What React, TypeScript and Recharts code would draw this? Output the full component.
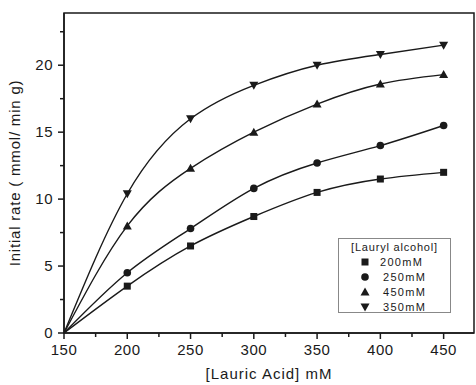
import React from "react";
import { LineChart, Line, XAxis, YAxis, ReferenceArea, Label } from "recharts";

// [Lauric Acid] mM
const lauricAcid = [150, 200, 250, 300, 350, 400, 450];

// initial rate per lauryl alcohol concentration (origin point has no marker)
const rate200 = [0, 3.5, 6.5, 8.7, 10.5, 11.5, 12.0];
const rate250 = [0, 4.5, 7.8, 10.8, 12.7, 14.0, 15.5];
const rate450 = [0, 8.0, 12.3, 15.0, 17.1, 18.6, 19.3];
const rate350 = [0, 10.4, 16.0, 18.5, 20.0, 20.8, 21.5];

const seriesNames = ["200mM", "250mM", "450mM", "350mM"];
const seriesShapes = ["square", "circle", "up", "down"];

const xMajor = [150, 200, 250, 300, 350, 400, 450];
const xMinor = [175, 225, 275, 325, 375, 425];
const yMajor = [0, 5, 10, 15, 20];
const yMinor = [2.5, 7.5, 12.5, 17.5, 22.5];

const data = lauricAcid.map((x, i) => ({
  x,
  s200: rate200[i],
  s250: rate250[i],
  s450: rate450[i],
  s350: rate350[i],
}));

const INK = "#1a1a1a";
const FONT = "'Liberation Sans', Arial, sans-serif";

function Marker({ cx, cy, shape }: { cx: number; cy: number; shape: string }) {
  if (shape === "square") return <rect x={cx - 3.5} y={cy - 3.5} width={7} height={7} fill={INK} />;
  if (shape === "circle") return <circle cx={cx} cy={cy} r={3.8} fill={INK} />;
  if (shape === "up")
    return <polygon points={`${cx},${cy - 4.5} ${cx - 4.5},${cy + 3.5} ${cx + 4.5},${cy + 3.5}`} fill={INK} />;
  return <polygon points={`${cx},${cy + 4.5} ${cx - 4.5},${cy - 3.5} ${cx + 4.5},${cy - 3.5}`} fill={INK} />;
}

const makeDot = (shape: string) => (props: any) => {
  const { cx, cy, index } = props;
  if (index === 0 || cx == null) return <g key={`d-${shape}-${index}`} />;
  return <Marker key={`d-${shape}-${index}`} cx={cx} cy={cy} shape={shape} />;
};

const XTick = (props: any) => {
  const { x, y, payload } = props;
  const major = xMajor.includes(payload.value);
  return (
    <g>
      <line x1={x} x2={x} y1={y} y2={y + (major ? 6 : 4)} stroke={INK} strokeWidth={1.5} />
      {major && (
        <text x={x} y={y + 22} textAnchor="middle" fontSize={15} fontFamily={FONT} fill={INK} letterSpacing={0.5}>
          {payload.value}
        </text>
      )}
    </g>
  );
};

const YTick = (props: any) => {
  const { x, y, payload } = props;
  const major = yMajor.includes(payload.value);
  return (
    <g>
      <line x1={x} x2={x - (major ? 6 : 4)} y1={y} y2={y} stroke={INK} strokeWidth={1.5} />
      {major && (
        <text x={x - 11} y={y + 5} textAnchor="end" fontSize={15} fontFamily={FONT} fill={INK} letterSpacing={0.5}>
          {payload.value}
        </text>
      )}
    </g>
  );
};

const LegendBox = () => (
  <div
    style={{
      position: "absolute",
      left: 338,
      top: 238,
      border: "1px solid #888",
      width: 113,
      height: 75,
      padding: "1px 0 0 0",
      fontFamily: FONT,
      fontSize: 11,
      color: INK,
      background: "#fff",
      boxSizing: "border-box",
    }}
  >
    <div style={{ textAlign: "center", letterSpacing: 0.8, lineHeight: "14px" }}>[Lauryl alcohol]</div>
    {seriesNames.map((name, i) => (
      <div key={name} style={{ display: "flex", alignItems: "center", height: 15, letterSpacing: 1.3 }}>
        <svg width={12} height={10} style={{ marginLeft: 20, marginRight: i === 0 ? 9 : 12 }}>
          <Marker cx={6} cy={5} shape={seriesShapes[i]} />
        </svg>
        <span>{name}</span>
      </div>
    ))}
  </div>
);

export default function App() {
  return (
    <div style={{ position: "absolute", left: 0, top: 0, width: 476, height: 385, background: "#fff" }}>
      <LineChart width={476} height={385} data={data} margin={{ top: 13, right: 2, bottom: 0, left: 0 }}>
        <XAxis
          type="number"
          dataKey="x"
          domain={[150, 474]}
          ticks={[...xMajor, ...xMinor].sort((a, b) => a - b)}
          tick={<XTick />}
          tickLine={false}
          tickSize={0}
          tickMargin={0}
          height={52}
          axisLine={{ stroke: INK, strokeWidth: 1.5 }}
          allowDataOverflow
        >
          <Label
            value="[Lauric Acid] mM"
            position="insideBottom"
            offset={6}
            style={{ fontSize: 15, fontFamily: FONT, fill: INK, letterSpacing: 1 }}
          />
        </XAxis>
        <YAxis
          type="number"
          domain={[0, 23.9]}
          ticks={[...yMajor, ...yMinor].sort((a, b) => a - b)}
          tick={<YTick />}
          tickLine={false}
          tickSize={0}
          tickMargin={0}
          width={64}
          axisLine={{ stroke: INK, strokeWidth: 1.5 }}
          allowDataOverflow
        >
          <Label
            value="Initial rate ( mmol/ min g)"
            angle={-90}
            position="insideLeft"
            offset={0}
            dx={15}
            style={{ fontSize: 15, fontFamily: FONT, fill: INK, letterSpacing: 0.8, textAnchor: "middle" }}
          />
        </YAxis>
        <ReferenceArea x1={150} x2={474} y1={0} y2={23.9} fill="none" stroke={INK} strokeWidth={1.5} ifOverflow="visible" />
        <Line type="natural" dataKey="s200" name={seriesNames[0]} stroke={INK} strokeWidth={1.4} dot={makeDot("square")} isAnimationActive={false} />
        <Line type="natural" dataKey="s250" name={seriesNames[1]} stroke={INK} strokeWidth={1.4} dot={makeDot("circle")} isAnimationActive={false} />
        <Line type="natural" dataKey="s450" name={seriesNames[2]} stroke={INK} strokeWidth={1.4} dot={makeDot("up")} isAnimationActive={false} />
        <Line type="natural" dataKey="s350" name={seriesNames[3]} stroke={INK} strokeWidth={1.4} dot={makeDot("down")} isAnimationActive={false} />
      </LineChart>
      <LegendBox />
    </div>
  );
}
